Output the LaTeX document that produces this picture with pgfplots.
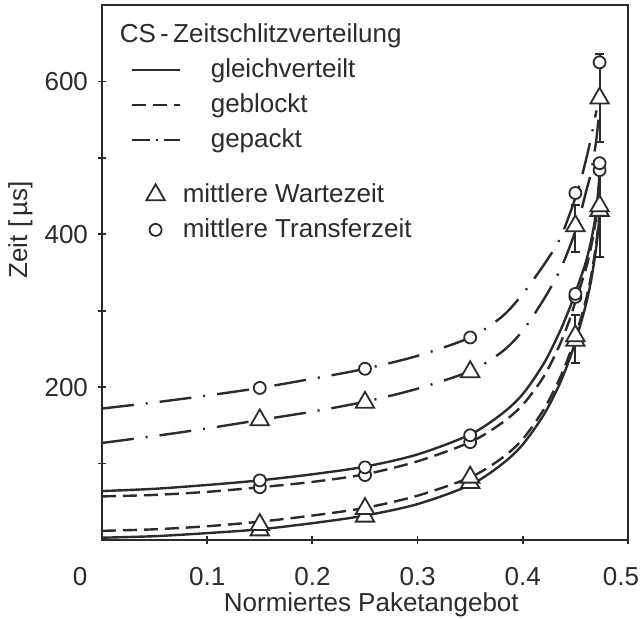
\documentclass[border=0pt]{standalone}
\usepackage{fontspec}
\setmainfont{Liberation Sans}
\usepackage{pgfplots}
\pgfplotsset{compat=1.18}
\definecolor{ink}{HTML}{2B2B2B}
\tikzset{
  gl/.style={ink, line width=1.2pt, solid},
  gb/.style={ink, line width=1.2pt, dash pattern=on 7pt off 3.5pt},
  gp/.style={ink, line width=1.2pt, dash pattern=on 16pt off 6pt on 1pt off 6pt},
}
\pgfplotsset{
  tri/.style={only marks, mark=triangle*, mark size=5.3pt, mark options={solid, fill=white, draw=ink, line width=0.9pt}},
  circ/.style={only marks, mark=*, mark size=3pt, mark options={solid, fill=white, draw=ink, line width=0.9pt}},
}
\newcommand\ls{\rule[-3pt]{0pt}{12.5pt}}
\newcommand\fs{\fontsize{13}{15}\selectfont}
\begin{document}
\begin{tikzpicture}
\begin{axis}[
  scale only axis, width=263pt, height=267.5pt,
  xmin=0, xmax=0.5, ymin=0, ymax=700,
  axis line style={ink, line width=1pt},
  every tick/.style={ink, line width=0.9pt},
  tick align=center, major tick length=4pt, minor tick length=4pt,
  xtick={0.1,0.2,0.3,0.4,0.5}, xticklabels={0.1,0.2,0.3,0.4,\hspace*{-7pt}0.5},
  ytick={200,400,600}, yticklabels={200,400,600},
  minor ytick={100,300,500},
  xtick pos=lower, ytick pos=left,
  ticklabel style={font=\fs, text=ink},
  xticklabel style={anchor=center, yshift=-16.5pt},
  yticklabel style={anchor=east, xshift=-1.5pt},
  xlabel={Normiertes Paketangebot},
  ylabel={Zeit [\,µs]},
  label style={font=\fs, text=ink},
  xlabel style={at={(axis description cs:0.512,0)}, anchor=center, yshift=-32.5pt},
  ylabel style={at={(axis description cs:-0.155,0.58)}, anchor=center, rotate=0},
  legend style={at={(axis description cs:0,1)}, anchor=north west, xshift=14pt, yshift=-9.25pt,
    draw=none, fill=none, inner sep=0pt, row sep=6.5pt, column sep=15pt,
    nodes={inner sep=0pt, text=ink, font=\fs}},
  legend cell align=left,
]
% curves
\addplot[gl, smooth, tension=0.5, forget plot] coordinates {
(0,64)(0.05,67)(0.10,72)(0.15,78)(0.20,86)(0.25,96)(0.30,112)(0.35,138)(0.38,165)(0.40,191)(0.42,231)(0.435,272)(0.445,305)(0.45,324)(0.455,343)(0.46,364)(0.465,392)(0.47,432)(0.4735,488)};
\addplot[gb, smooth, tension=0.5, forget plot] coordinates {
(0,57)(0.05,59)(0.10,63)(0.15,69)(0.20,76)(0.25,86)(0.30,103)(0.35,128)(0.38,153)(0.40,177)(0.42,214)(0.435,255)(0.445,290)(0.45,312)(0.455,333)(0.46,355)(0.465,384)(0.47,425)(0.4735,482)};
\addplot[gl, smooth, tension=0.5, forget plot] coordinates {
(0,3)(0.05,5)(0.10,9)(0.15,14)(0.20,22)(0.25,32)(0.30,47)(0.35,72)(0.38,99)(0.40,125)(0.42,164)(0.435,204)(0.445,239)(0.45,260)(0.455,283)(0.46,308)(0.465,340)(0.47,385)(0.4735,432)};
\addplot[gb, smooth, tension=0.5, forget plot] coordinates {
(0,12)(0.05,14)(0.10,18)(0.15,24)(0.20,32)(0.25,42)(0.30,58)(0.35,82)(0.38,107)(0.40,132)(0.42,171)(0.435,211)(0.445,245)(0.45,266)(0.455,289)(0.46,314)(0.465,346)(0.47,390)(0.4735,437)};
\addplot[gp, smooth, tension=0.5, forget plot] coordinates {
(0,172)(0.05,180)(0.10,189)(0.15,199)(0.20,211)(0.25,224)(0.30,241)(0.35,265)(0.38,292)(0.40,322)(0.42,360)(0.435,393)(0.445,428)(0.45,448)(0.455,470)(0.46,497)(0.465,527)(0.47,562)};
\addplot[gp, smooth, tension=0.5, forget plot] coordinates {
(0,127)(0.05,136)(0.10,146)(0.15,157)(0.20,168)(0.25,181)(0.30,198)(0.35,221)(0.38,246)(0.40,274)(0.42,315)(0.435,352)(0.445,385)(0.45,405)(0.455,428)(0.46,455)(0.465,482)(0.47,525)(0.4725,560)};
% error bars
\addplot[only marks, mark=none, forget plot,
  error bars/.cd, y dir=both, y explicit,
  error bar style={ink, line width=1pt},
  error mark options={ink, line width=1pt, mark size=2.2pt, rotate=90}]
  table[x=x, y=y, y error plus=ep, y error minus=em] {
x y ep em
0.45 411 27 34
0.473 578 58 57
0.45 267 28 36
0.473 437 50 67
};
% triangles (waiting time)
\addplot[tri, forget plot] coordinates {(0.15,13)(0.25,31)(0.35,75)(0.45,261)(0.473,431)};
\addplot[tri, forget plot] coordinates {(0.15,20)(0.25,41)(0.35,82)(0.45,267)(0.473,437)};
\addplot[tri, forget plot] coordinates {(0.15,157)(0.25,180)(0.35,220)(0.45,411)(0.473,578)};
% circles (transfer time)
\addplot[circ, forget plot] coordinates {(0.15,69)(0.25,85)(0.35,128)(0.45,318)(0.473,484)};
\addplot[circ, forget plot] coordinates {(0.15,78)(0.25,95)(0.35,137)(0.45,322)(0.473,493)};
\addplot[circ, forget plot] coordinates {(0.15,199)(0.25,224)(0.35,265)(0.45,454)(0.473,625)};
% legend
\addlegendimage{empty legend}
\addlegendentry{\hspace*{-45.5pt}\ls CS\,-\,Zeitschlitzverteilung}
\addlegendimage{legend image code/.code={\draw[gl] (0pt,0pt) -- (24pt,0pt);}}
\addlegendentry{\ls gleichverteilt}
\addlegendimage{legend image code/.code={\draw[gb] (0pt,0pt) -- (24pt,0pt);}}
\addlegendentry{\ls geblockt}
\addlegendimage{legend image code/.code={\draw[gp, dash pattern=on 9pt off 3pt on 1pt off 3pt] (0pt,0pt) -- (24pt,0pt);}}
\addlegendentry{\ls gepackt}
\addlegendimage{empty legend}
\addlegendentry{\rule{0pt}{2pt}}
\addlegendimage{legend image code/.code={\draw[ink, line width=0.9pt] plot[mark=triangle, mark size=5.3pt] coordinates {(12pt,0pt)};}}
\addlegendentry{\hspace*{-14pt}\ls mittlere Wartezeit}
\addlegendimage{legend image code/.code={\draw[ink, line width=0.9pt] plot[mark=o, mark size=3pt] coordinates {(12pt,0pt)};}}
\addlegendentry{\hspace*{-14pt}\ls mittlere Transferzeit}
\end{axis}
\node[font=\fs, text=ink] at ([shift={(-11pt,-18.5pt)}]current axis.south west) {0};
\pgfresetboundingbox
\path[use as bounding box] ([shift={(-51pt,-39.5pt)}]current axis.south west) rectangle ([shift={(6.5pt,2.5pt)}]current axis.north east);
\end{tikzpicture}
\end{document}
